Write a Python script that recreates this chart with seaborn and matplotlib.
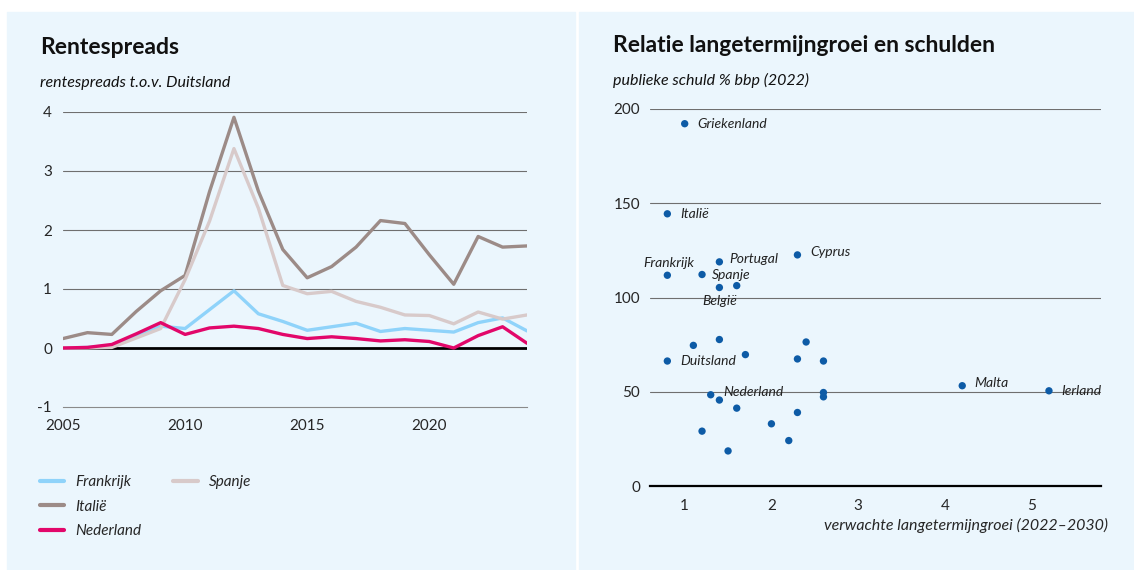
import matplotlib
matplotlib.use("Agg")
import matplotlib.pyplot as plt
from matplotlib.patches import Rectangle
from matplotlib.lines import Line2D
import seaborn as sns
import pandas as pd

# data: rentespreads t.o.v. Duitsland
jaren = list(range(2005, 2025))
frankrijk = [0.0, 0.01, 0.04, 0.20, 0.37, 0.33, 0.65, 0.97, 0.58, 0.45, 0.30, 0.36, 0.42, 0.28,
             0.33, 0.30, 0.27, 0.43, 0.51, 0.29]
italie = [0.16, 0.26, 0.23, 0.62, 0.97, 1.23, 2.65, 3.91, 2.66, 1.67, 1.19, 1.38, 1.71, 2.16,
          2.11, 1.58, 1.08, 1.89, 1.71, 1.73]
spanje = [0.0, 0.0, 0.01, 0.17, 0.33, 1.16, 2.15, 3.38, 2.37, 1.06, 0.92, 0.96, 0.79, 0.69,
          0.56, 0.55, 0.41, 0.61, 0.49, 0.56]
nederland = [0.0, 0.01, 0.06, 0.24, 0.43, 0.23, 0.34, 0.37, 0.33, 0.23, 0.16, 0.19, 0.16, 0.12,
             0.14, 0.11, 0.0, 0.21, 0.36, 0.08]

# data: langetermijngroei vs schuld
groei = [1.0, 0.8, 0.8, 1.2, 1.4, 2.3, 1.4, 1.6, 1.4, 1.1, 2.4, 1.7, 0.8, 2.3, 2.6,
         4.2, 5.2, 1.3, 1.4, 2.6, 2.6, 1.6, 2.3, 2.0, 1.2, 2.2, 1.5]
schuld = [192.2, 144.4, 111.8, 112.2, 118.9, 122.6, 105.3, 106.3, 77.7, 74.6, 76.4, 69.7,
          66.3, 67.4, 66.3, 53.2, 50.5, 48.4, 45.6, 49.6, 47.3, 41.3, 39.0, 33.0, 29.1,
          24.1, 18.6]
labels = ["Griekenland", "Italië", "Frankrijk", "Spanje", "Portugal", "Cyprus", "België", "",
          "", "", "", "", "Duitsland", "", "", "Malta", "Ierland", "Nederland", "", "", "",
          "", "", "", "", "", ""]

BG = "#EBF6FD"
kleuren = {"Frankrijk": "#8FD3FA", "Italië": "#9C8B87", "Nederland": "#E2076A",
           "Spanje": "#D8CACA"}
DOT = "#0D5BA6"

sns.set_style("white")
plt.rcParams["font.family"] = ["Lato", "DejaVu Sans"]
plt.rcParams["axes.unicode_minus"] = False

df = pd.DataFrame({
    "jaar": jaren * 4,
    "spread": frankrijk + italie + spanje + nederland,
    "land": ["Frankrijk"] * 20 + ["Italië"] * 20 + ["Spanje"] * 20 + ["Nederland"] * 20,
})
df2 = pd.DataFrame({"groei": groei, "schuld": schuld, "land": labels})

fig = plt.figure(figsize=(11.34, 5.70), dpi=100)
W, H = 1134, 570
# panel achtergronden
fig.patches.append(Rectangle((7 / W, 0), (575 - 7) / W, (570 - 12) / H,
                             transform=fig.transFigure, color=BG, zorder=-10))
fig.patches.append(Rectangle((579 / W, 0), (1134 - 579) / W, (570 - 12) / H,
                             transform=fig.transFigure, color=BG, zorder=-10))

# ---- linker grafiek
ax1 = fig.add_axes([63 / W, (H - 407) / H, (527 - 63) / W, (407 - 112) / H])
ax1.set_facecolor(BG)
sns.lineplot(data=df, x="jaar", y="spread", hue="land", palette=kleuren, lw=2.4,
             ax=ax1, legend=False, zorder=3)
ax1.set_xlim(2005, 2024)
ax1.set_ylim(-1, 4)
for v in [1, 2, 3, 4]:
    ax1.axhline(v, color="#6f6f6f", lw=0.8, zorder=1)
ax1.axhline(0, color="black", lw=2, zorder=2)
for s in ["top", "right", "left"]:
    ax1.spines[s].set_visible(False)
ax1.spines["bottom"].set_color("#8a8a8a")
ax1.spines["bottom"].set_linewidth(0.8)
ax1.set_xticks([2005, 2010, 2015, 2020])
ax1.set_yticks([-1, 0, 1, 2, 3, 4])
ax1.tick_params(axis="x", length=6, width=0.8, color="#8a8a8a", labelsize=11, pad=3)
ax1.tick_params(axis="y", length=0, labelsize=11, pad=8)
ax1.set_xlabel("")
ax1.set_ylabel("")

fig.text(40 / W, 1 - 48 / H, "Rentespreads", fontsize=16.5, fontweight="bold",
         va="center", ha="left", color="#111111")
fig.text(40 / W, 1 - 83 / H, "rentespreads t.o.v. Duitsland", fontsize=11.5,
         style="italic", va="center", ha="left", color="#111111")

handles = [Line2D([], [], color=kleuren[k], lw=3) for k in
           ["Frankrijk", "Italië", "Nederland", "Spanje"]]
blank = Line2D([], [], color="none")
ax1.legend(handles + [blank, blank], ["Frankrijk", "Italië", "Nederland", "Spanje", "", ""],
           ncol=2, loc="upper left", bbox_to_anchor=(40 / W, 1 - 475 / H),
           bbox_transform=fig.transFigure, frameon=False, prop={"size": 11, "style": "italic"},
           borderpad=0, borderaxespad=0,
           handlelength=1.6, handletextpad=0.7, labelspacing=0.7, columnspacing=2.1)

# ---- rechter grafiek
ax2 = fig.add_axes([650 / W, (H - 486) / H, (1101 - 650) / W, (486 - 109) / H])
ax2.set_facecolor(BG)
sns.scatterplot(data=df2, x="groei", y="schuld", color=DOT, s=28, edgecolor="none",
                ax=ax2, zorder=3)
ax2.set_xlim(0.6, 5.8)
ax2.set_ylim(0, 200)
for v in [50, 100, 150, 200]:
    ax2.axhline(v, color="#6f6f6f", lw=0.8, zorder=1)
for s in ["top", "right", "left"]:
    ax2.spines[s].set_visible(False)
ax2.spines["bottom"].set_color("black")
ax2.spines["bottom"].set_linewidth(1.6)
ax2.set_xticks([1, 2, 3, 4, 5])
ax2.set_yticks([0, 50, 100, 150, 200])
ax2.tick_params(axis="x", length=6, width=0.8, color="#8a8a8a", labelsize=11, pad=3)
ax2.tick_params(axis="y", length=0, labelsize=11, pad=7)
ax2.set_xlabel("verwachte langetermijngroei (2022–2030)", fontsize=11.5, style="italic",
               labelpad=8)
ax2.xaxis.set_label_coords(1.016, -0.085)
ax2.xaxis.label.set_horizontalalignment("right")
ax2.set_ylabel("")

offsets = {"Griekenland": (9, 0, "left"), "Italië": (9, 0, "left"),
           "Frankrijk": (1, 9, "center"), "Spanje": (7, 0, "left"),
           "Portugal": (7, 2, "left"), "Cyprus": (9, 2, "left"),
           "België": (0, -10, "center"), "Duitsland": (9, 0, "left"),
           "Nederland": (9, 2, "left"), "Malta": (9, 2, "left"), "Ierland": (9, 0, "left")}
for _, r in df2.iterrows():
    if r["land"]:
        dx, dy, ha = offsets[r["land"]]
        ax2.annotate(r["land"], (r["groei"], r["schuld"]), xytext=(dx, dy),
                     textcoords="offset points", ha=ha, va="center", fontsize=10,
                     style="italic", color="#222222", zorder=4)

fig.text(613 / W, 1 - 46 / H, "Relatie langetermijngroei en schulden", fontsize=16.5,
         fontweight="bold", va="center", ha="left", color="#111111")
fig.text(613 / W, 1 - 80 / H, "publieke schuld % bbp (2022)", fontsize=11.5,
         style="italic", va="center", ha="left", color="#111111")

fig.savefig("out.png", dpi=100, facecolor="white")
